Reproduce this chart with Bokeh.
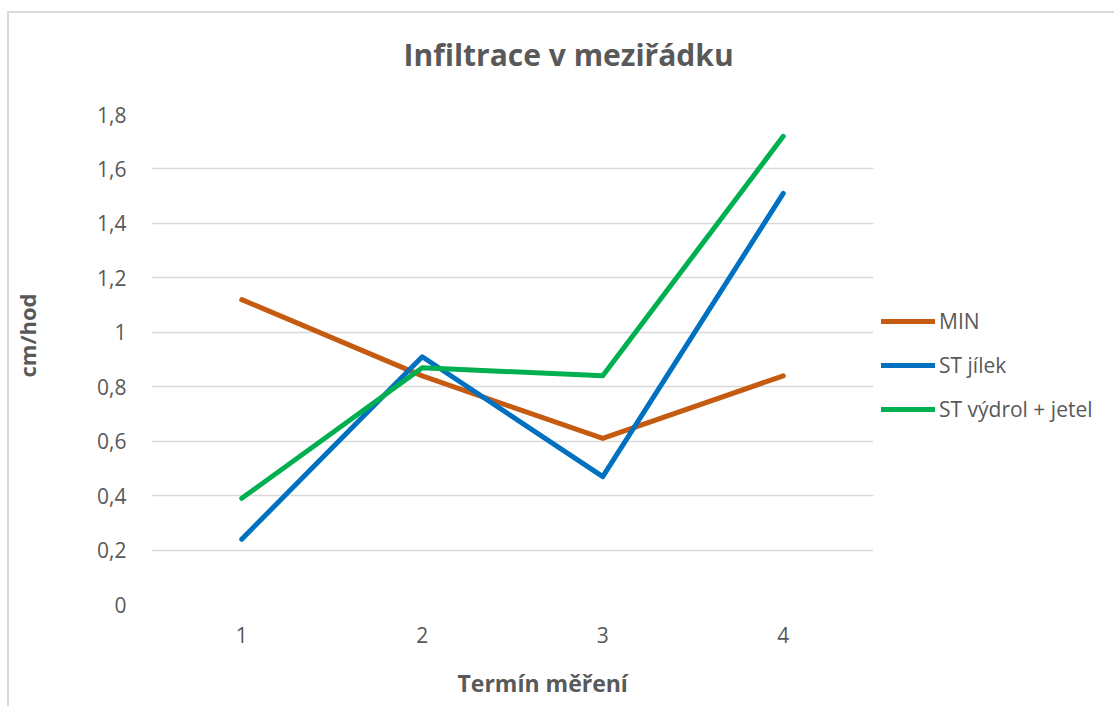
from bokeh.plotting import figure
from bokeh.models import Range1d, FixedTicker, Legend, LegendItem, Title, CustomJSTickFormatter
from bokeh.embed import file_html
from bokeh.resources import INLINE

# ---- data ----
terms = [1, 2, 3, 4]
term_labels = ["1", "2", "3", "4"]
min_vals = [1.12, 0.84, 0.61, 0.84]
jilek_vals = [0.24, 0.91, 0.47, 1.51]
vydrol_vals = [0.39, 0.87, 0.84, 1.72]
y_ticks = [0, 0.2, 0.4, 0.6, 0.8, 1.0, 1.2, 1.4, 1.6, 1.8]
y_tick_labels = ["0", "0,2", "0,4", "0,6", "0,8", "1", "1,2", "1,4", "1,6", "1,8"]
series_names = ["MIN", "ST jílek", "ST výdrol + jetel"]
series_colors = ["#C55A11", "#0070C0", "#00B050"]
title_text = "Infiltrace v meziřádku"
x_title = "Termín měření"
y_title = "cm/hod"

FONT = "Open Sans"
TXT = "#595959"
GRID = "#d9d9d9"

p = figure(frame_width=722, frame_height=490, output_backend="svg", toolbar_location=None,
           x_range=Range1d(0.5, 4.5), y_range=Range1d(0, 1.8),
           min_border_left=142, min_border_right=241, min_border_top=101, min_border_bottom=102)
p.styles = {"border-top": "2px solid #d9d9d9", "border-left": "2px solid #d9d9d9",
            "margin-left": "7px", "margin-top": "11px"}
p.outline_line_color = None
p.background_fill_color = "white"
p.border_fill_color = "white"


def spacer(size):
    return Title(text=" ", text_font_size="1px", standoff=size)


# spacer between frame and main title
p.add_layout(spacer(37), "above")
p.title.text = title_text
p.title.align = "left"
p.title.offset = 252
p.title.standoff = 0
p.title.text_font = FONT
p.title.text_font_size = "30px"
p.title.text_font_style = "bold"
p.title.text_color = TXT

fmt_code = """
const i = tvals.findIndex(t => Math.abs(t - tick) < 1e-6);
return i >= 0 ? tlabels[i] : '';
"""
p.xaxis.ticker = FixedTicker(ticks=terms)
p.xaxis.formatter = CustomJSTickFormatter(args=dict(tvals=terms, tlabels=term_labels), code=fmt_code)
p.yaxis.ticker = FixedTicker(ticks=y_ticks)
p.yaxis.formatter = CustomJSTickFormatter(args=dict(tvals=y_ticks, tlabels=y_tick_labels), code=fmt_code)

for ax in (p.xaxis, p.yaxis):
    ax.axis_line_color = None
    ax.major_tick_line_color = None
    ax.minor_tick_line_color = None
    ax.major_label_text_font = FONT
    ax.major_label_text_font_size = "21px"
    ax.major_label_text_color = TXT
p.xaxis.major_label_standoff = 16
p.yaxis.major_label_standoff = 19

p.xgrid.grid_line_color = None
p.ygrid.grid_line_color = GRID
p.ygrid.grid_line_width = 1.5

renderers = []
for vals, col in zip([min_vals, jilek_vals, vydrol_vals], series_colors):
    r = p.line(terms, vals, line_color=col, line_width=5, line_cap="round", line_join="round")
    renderers.append(r)

legend = Legend(items=[LegendItem(label=n, renderers=[r]) for n, r in zip(series_names, renderers)],
                location=(8, 181), orientation="vertical",
                glyph_width=54, glyph_height=28, label_height=28, label_standoff=4,
                spacing=16, padding=0, margin=0,
                border_line_color=None, background_fill_alpha=0,
                label_text_font=FONT, label_text_font_size="21px", label_text_color=TXT)
p.add_layout(legend, "right")

p.add_layout(spacer(16), "below")
xt = Title(text=x_title, align="left", offset=306, standoff=0,
           text_font=FONT, text_font_size="23px", text_font_style="bold", text_color=TXT)
p.add_layout(xt, "below")

p.add_layout(spacer(50), "left")
yt = Title(text=y_title, align="left", offset=227, standoff=0,
           text_font=FONT, text_font_size="22px", text_font_style="bold", text_color=TXT)
p.add_layout(yt, "left")

open("out.html", "w").write(file_html(p, INLINE))
